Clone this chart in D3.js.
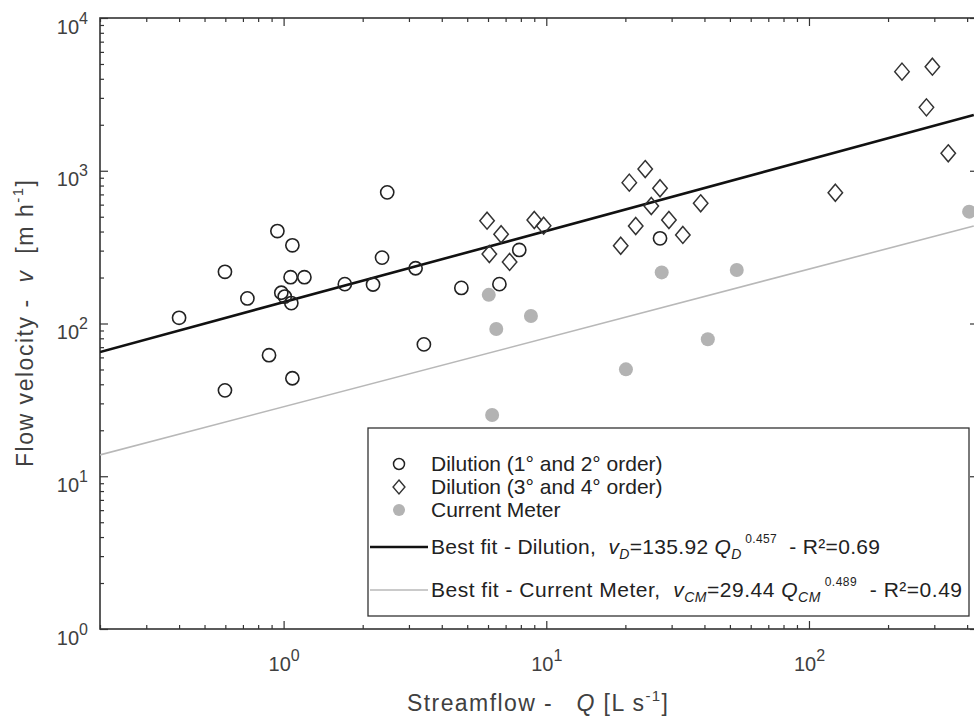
<!DOCTYPE html>
<html><head><meta charset="utf-8">
<script src="https://cdn.jsdelivr.net/npm/d3@7"></script>
<style>
html,body{margin:0;padding:0;background:#fff;}
svg{display:block;font-family:"Liberation Sans",Arial,sans-serif;}
text{white-space:pre;}
</style></head><body>
<svg id="chart" width="974" height="718"></svg>
<script>
// ---------- data ----------
const dil12Q = [2.48,0.947,1.08,0.598,2.37,1.063,1.20,3.18,1.71,2.19,0.728,0.98,1.01,1.07,0.40,3.42,0.88,1.08,0.598,4.75,6.63,7.89,27.1];
const dil12V = [722,403,325,218,270,201,201,230,181,180,146,159,150,136,109,73,62,43.8,36.5,171,181,303,361];
const dil34Q = [5.95,6.73,6.07,7.25,9.0,9.77,20.7,23.8,27.1,25.1,21.9,19.2,29.3,33.1,38.7,226,295,280,339,126];
const dil34V = [471,384,285,253,476,437,836,1026,768,588,435,323,476,380,612,4455,4800,2600,1300,718];
const cmQ = [6.04,6.45,8.74,27.5,53.1,41.2,20.1,6.22,407];
const cmV = [154,92,112,216,224,78.8,50.1,25.2,540];
// fitted lines as drawn in the picture (end points)
const fitLineQ = [0.2, 424];
const fitDilV = [65.1, 2317];
const fitCmV = [13.8, 435];
const fitNames = ["Dilution","Current Meter"];
const fitCoef = ["135.92", "29.44"];
const fitExp = ["0.457", "0.489"];
const fitR2 = ["0.69","0.49"];
const legendLabels = ["Dilution (1° and 2° order)", "Dilution (3° and 4° order)", "Current Meter"];
const xTickValues = [1, 10, 100];
const yTickValues = [1, 10, 100, 1000, 10000];
const xDomain = [0.2, 440];
const yDomain = [1, 10000];

// ---------- setup ----------
const svg = d3.select("#chart");
const L = 100, R = 978, T = 18, B = 629;
const x = d3.scaleLog().domain(xDomain).range([L, R]);
const y = d3.scaleLog().domain(yDomain).range([B, T]);
const axisCol = "#333", textCol = "#404040";

function minors(lo, hi){
  const out=[];
  for(let e=Math.floor(Math.log10(lo)); e<=Math.ceil(Math.log10(hi)); e++){
    for(let m=2;m<=9;m++){const v=m*Math.pow(10,e); if(v>=lo&&v<=hi) out.push(v);}
  }
  return out;
}
const xMinor = minors(xDomain[0], xDomain[1]);
const yMinor = minors(yDomain[0], yDomain[1]);

function drawAxis(gen, tx, ty, vals, size, withLabels, pad){
  const g = svg.append("g").attr("transform",`translate(${tx},${ty})`)
    .call(gen.tickValues(vals).tickSizeInner(-size).tickSizeOuter(0).tickPadding(pad||0)
      .tickFormat(withLabels ? (d=>d) : (()=> "")));
  g.select(".domain").remove();
  g.selectAll(".tick line").attr("stroke",axisCol).attr("stroke-width",1.2);
  return g;
}
const gxb = drawAxis(d3.axisBottom(x), 0, B, xTickValues, 8, true, 28);
drawAxis(d3.axisBottom(x), 0, B, xMinor, 4, false);
drawAxis(d3.axisTop(x), 0, T, xTickValues, 8, false);
drawAxis(d3.axisTop(x), 0, T, xMinor, 4, false);
const gyl = drawAxis(d3.axisLeft(y), L, 0, yTickValues, 8, true, 12);
drawAxis(d3.axisLeft(y), L, 0, yMinor, 4, false);
drawAxis(d3.axisRight(y), R, 0, yTickValues, 8, false);
drawAxis(d3.axisRight(y), R, 0, yMinor, 4, false);

function powLabel(sel){
  sel.each(function(d){
    const t = d3.select(this);
    t.text(null).attr("fill",textCol).style("font-size","20px").style("font-family","'Liberation Sans',Arial,sans-serif");
    t.append("tspan").text("10");
    t.append("tspan").attr("dy",-10).style("font-size","16px").text(Math.round(Math.log10(d)));
  });
}
gxb.selectAll(".tick text").call(powLabel).attr("dy","0.71em");
gyl.selectAll(".tick text").call(powLabel).attr("dy",15);

// frame
svg.append("rect").attr("x",L).attr("y",T).attr("width",R-L).attr("height",B-T)
  .attr("fill","none").attr("stroke",axisCol).attr("stroke-width",1.6);

// axis labels
const xl = svg.append("text").attr("x",407).attr("y",711)
  .attr("fill",textCol).style("font-size","23px").attr("textLength",261).attr("lengthAdjust","spacing");
xl.append("tspan").text("Streamflow -   ");
xl.append("tspan").style("font-style","italic").text("Q");
xl.append("tspan").text(" [L s");
xl.append("tspan").attr("dy",-10).style("font-size","15px").text("-1");
xl.append("tspan").attr("dy",10).text("]");

const yl = svg.append("text").attr("transform",`translate(33,467) rotate(-90)`)
  .attr("fill",textCol).style("font-size","23px").attr("textLength",287).attr("lengthAdjust","spacing");
yl.append("tspan").text("Flow velocity -  ");
yl.append("tspan").style("font-style","italic").text("v");
yl.append("tspan").text("  [m h");
yl.append("tspan").attr("dy",-10).style("font-size","15px").text("-1");
yl.append("tspan").attr("dy",10).text("]");

svg.append("clipPath").attr("id","pc").append("rect").attr("x",L).attr("y",T).attr("width",R-L).attr("height",B-T);
const plot = svg.append("g").attr("clip-path","url(#pc)");

// fit lines
const fitColors = ["#111","#b8b8b8"], fitWidths = [2.6,1.6];
[fitDilV, fitCmV].forEach((vals,i)=>{
  const pts = fitLineQ.map((q,k)=>[q, vals[k]]);
  plot.append("path").datum(pts)
    .attr("d", d3.line().x(d=>x(d[0])).y(d=>y(d[1])))
    .attr("fill","none").attr("stroke",fitColors[i]).attr("stroke-width",fitWidths[i]);
});

// points
const cmData = cmQ.map((q,i)=>({q, v:cmV[i]}));
plot.selectAll(".cm").data(cmData).join("circle")
  .attr("cx",d=>x(d.q)).attr("cy",d=>y(d.v)).attr("r",7).attr("fill","#b3b3b3");
const d12 = dil12Q.map((q,i)=>({q, v:dil12V[i]}));
plot.selectAll(".c12").data(d12).join("circle")
  .attr("cx",d=>x(d.q)).attr("cy",d=>y(d.v)).attr("r",6.6)
  .attr("fill","none").attr("stroke","#222").attr("stroke-width",1.6);
const diamond = (cx,cy,s)=>`M${cx},${cy-s}L${cx+s*0.85},${cy}L${cx},${cy+s}L${cx-s*0.85},${cy}Z`;
const d34 = dil34Q.map((q,i)=>({q, v:dil34V[i]}));
plot.selectAll(".c34").data(d34).join("path")
  .attr("d",d=>diamond(x(d.q),y(d.v),8.5))
  .attr("fill","none").attr("stroke","#333").attr("stroke-width",1.5);

// legend
const lg = svg.append("g");
lg.append("rect").attr("x",368).attr("y",428).attr("width",601).attr("height",188)
  .attr("fill","#fff").attr("stroke",axisCol).attr("stroke-width",1.3);
const fs = "21px", tx = 431, mx = 399;
const rowY = [464, 487, 510];
lg.append("circle").attr("cx",mx).attr("cy",rowY[0]).attr("r",5.5).attr("fill","none").attr("stroke","#222").attr("stroke-width",1.5);
lg.append("path").attr("d",diamond(mx,rowY[1],7)).attr("fill","none").attr("stroke","#333").attr("stroke-width",1.4);
lg.append("circle").attr("cx",mx).attr("cy",rowY[2]).attr("r",6).attr("fill","#b3b3b3");
legendLabels.forEach((s,i)=>{
  lg.append("text").attr("x",tx).attr("y",rowY[i]+7).attr("fill","#222").style("font-size",fs).text(s);
});

const subs = ["D","CM"], lineY = [547, 590], fitLen = [449, 531];
fitNames.forEach((n,i)=>{
  lg.append("line").attr("x1",370).attr("x2",428).attr("y1",lineY[i]).attr("y2",lineY[i])
    .attr("stroke",fitColors[i]).attr("stroke-width",fitWidths[i]);
  const t = lg.append("text").attr("x",tx).attr("y",lineY[i]+7).attr("fill","#222").style("font-size",fs)
    .attr("textLength",fitLen[i]).attr("lengthAdjust","spacing");
  t.append("tspan").text(`Best fit - ${n},  `);
  t.append("tspan").style("font-style","italic").text("v");
  t.append("tspan").attr("dy",5).style("font-size","14px").style("font-style","italic").text(subs[i]);
  t.append("tspan").attr("dy",-5).text(`=${fitCoef[i]} `);
  t.append("tspan").style("font-style","italic").text("Q");
  t.append("tspan").attr("dy",5).style("font-size","14px").style("font-style","italic").text(subs[i]);
  t.append("tspan").attr("dy",-16).style("font-size","12px").text(` ${fitExp[i]}`);
  t.append("tspan").attr("dy",11).text(`  - R²=${fitR2[i]}`);
});
</script>
</body></html>
